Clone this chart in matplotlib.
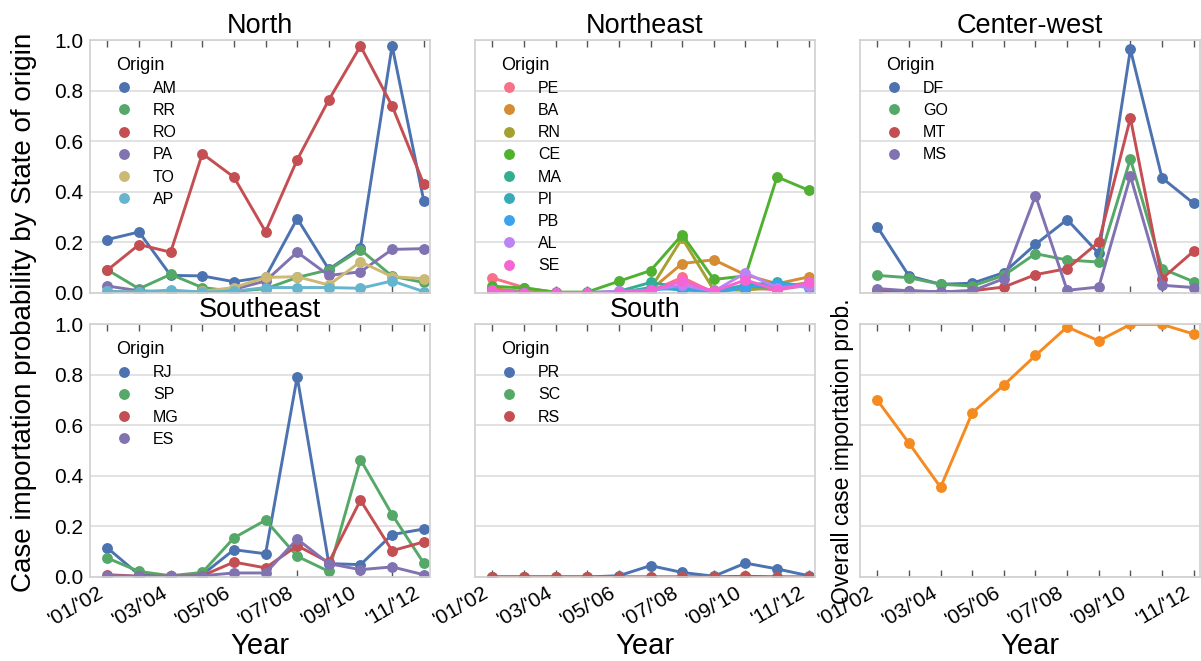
import numpy as np
import matplotlib
matplotlib.use("Agg")
import matplotlib.pyplot as plt
from matplotlib.lines import Line2D
import seaborn as sns

plt.rcParams['font.family'] = ['Liberation Sans', 'DejaVu Sans']

seasons = ["'01/'02", "'02/'03", "'03/'04", "'04/'05", "'05/'06", "'06/'07",
           "'07/'08", "'08/'09", "'09/'10", "'10/'11", "'11/'12"]

# North
north_states = ["AM", "RR", "RO", "PA", "TO", "AP"]
AM = [0.21, 0.24, 0.068, 0.066, 0.043, 0.062, 0.293, 0.092, 0.178, 0.977, 0.364]
RR = [0.09, 0.015, 0.072, 0.02, 0.005, 0.015, 0.06, 0.09, 0.17, 0.065, 0.04]
RO = [0.089, 0.19, 0.16, 0.55, 0.457, 0.241, 0.526, 0.763, 0.976, 0.739, 0.43]
PA = [0.026, 0.007, 0.003, 0.003, 0.013, 0.046, 0.16, 0.068, 0.082, 0.171, 0.174]
TO = [0.005, 0.002, 0.002, 0.005, 0.02, 0.06, 0.063, 0.03, 0.122, 0.063, 0.055]
AP = [0.005, 0.002, 0.01, 0.002, 0.005, 0.02, 0.02, 0.02, 0.017, 0.046, 0.004]

# Northeast
northeast_states = ["PE", "BA", "RN", "CE", "MA", "PI", "PB", "AL", "SE"]
PE = [0.058, 0.02, 0.0, 0.0, 0.0, 0.005, 0.06, 0.0, 0.02, 0.01, 0.03]
BA = [0.015, 0.005, 0.0, 0.0, 0.0, 0.01, 0.115, 0.13, 0.07, 0.035, 0.062]
RN = [0.01, 0.0, 0.0, 0.0, 0.0, 0.015, 0.215, 0.01, 0.01, 0.02, 0.04]
CE = [0.025, 0.018, 0.002, 0.002, 0.045, 0.087, 0.229, 0.052, 0.066, 0.458, 0.405]
MA = [0.01, 0.0, 0.0, 0.0, 0.005, 0.04, 0.02, 0.005, 0.025, 0.02, 0.03]
PI = [0.005, 0.0, 0.0, 0.0, 0.0, 0.02, 0.01, 0.005, 0.03, 0.04, 0.025]
PB = [0.0, 0.0, 0.0, 0.0, 0.0, 0.01, 0.02, 0.0, 0.02, 0.035, 0.02]
AL = [0.005, 0.0, 0.0, 0.0, 0.005, 0.01, 0.03, 0.005, 0.078, 0.02, 0.025]
SE = [0.01, 0.0, 0.0, 0.0, 0.0, 0.01, 0.045, 0.005, 0.05, 0.01, 0.04]

# Center-west
centerwest_states = ["DF", "GO", "MT", "MS"]
DF = [0.26, 0.066, 0.033, 0.037, 0.079, 0.191, 0.289, 0.155, 0.963, 0.454, 0.353]
GO = [0.068, 0.059, 0.033, 0.026, 0.068, 0.154, 0.129, 0.121, 0.529, 0.095, 0.043]
MT = [0.007, 0.007, 0.003, 0.007, 0.022, 0.071, 0.095, 0.2, 0.691, 0.055, 0.164]
MS = [0.016, 0.007, 0.003, 0.007, 0.055, 0.384, 0.009, 0.022, 0.461, 0.029, 0.02]

# Southeast
southeast_states = ["RJ", "SP", "MG", "ES"]
RJ = [0.115, 0.009, 0.005, 0.009, 0.108, 0.092, 0.793, 0.053, 0.049, 0.168, 0.19]
SP = [0.075, 0.022, 0.005, 0.018, 0.155, 0.225, 0.082, 0.022, 0.465, 0.247, 0.055]
MG = [0.009, 0.003, 0.003, 0.005, 0.059, 0.036, 0.124, 0.058, 0.304, 0.104, 0.139]
ES = [0.005, 0.003, 0.003, 0.005, 0.016, 0.016, 0.15, 0.053, 0.029, 0.04, 0.009]

# South
south_states = ["PR", "SC", "RS"]
PR = [0.0, 0.0, 0.0, 0.0, 0.005, 0.045, 0.018, 0.003, 0.055, 0.032, 0.005]
SC = [0.0, 0.0, 0.0, 0.0, 0.0, 0.0, 0.0, 0.0, 0.002, 0.0, 0.0]
RS = [0.0, 0.0, 0.0, 0.0, 0.0, 0.0, 0.0, 0.0, 0.003, 0.0, 0.0]

# Overall
overall = [0.70, 0.53, 0.355, 0.65, 0.76, 0.877, 0.99, 0.935, 1.0, 1.0, 0.962]

deep = ["#4C72B0", "#55A868", "#C44E52", "#8172B2", "#CCB974", "#64B5CD"]
husl9 = sns.color_palette("husl", 9)
orange = "#F58A1F"

regions = [
    ("North", north_states, [AM, RR, RO, PA, TO, AP], deep),
    ("Northeast", northeast_states, [PE, BA, RN, CE, MA, PI, PB, AL, SE], husl9),
    ("Center-west", centerwest_states, [DF, GO, MT, MS], deep),
    ("Southeast", southeast_states, [RJ, SP, MG, ES], deep),
    ("South", south_states, [PR, SC, RS], deep),
]

W, H = 1201, 661
fig, axes = plt.subplots(2, 3, figsize=(W / 100, H / 100), dpi=100,
                         sharex=True, sharey=True)
fig.subplots_adjust(left=90 / W, right=1200 / W, top=1 - 40 / H,
                    bottom=1 - 577 / H, wspace=0.132, hspace=0.126)

x = np.arange(len(seasons))
lw = 2.1
ms = 6.8

def style(ax):
    ax.set_facecolor("white")
    ax.set_axisbelow(True)
    for s in ax.spines.values():
        s.set_color("#d0d0d0")
        s.set_linewidth(1.2)
    ax.grid(axis="y", color="#dddddd", linewidth=1.2)
    ax.grid(axis="x", visible=False)
    ax.tick_params(axis="x", direction="in", top=True, bottom=True,
                   length=5, width=1, color="#555555", labelsize=15, pad=4)
    ax.tick_params(axis="y", length=0, labelsize=15, pad=5)

for ax, (title, states, series, pal) in zip(axes.flat, regions):
    style(ax)
    handles = []
    for i, (st, vals) in enumerate(zip(states, series)):
        c = pal[i]
        ax.plot(x, vals, "-o", color=c, lw=lw, ms=ms, mec=c)
        handles.append(Line2D([], [], ls="", marker="o", color=c, ms=ms))
    ax.set_title(title, fontsize=19.5, pad=5)
    leg = ax.legend(handles, states, title="Origin", loc="upper left",
                    frameon=False, fontsize=11.5, title_fontsize=13,
                    handlelength=1.0, handletextpad=1.3, labelspacing=0.45,
                    borderaxespad=0.4, bbox_to_anchor=(0.04, 0.985))
    leg._legend_box.align = "left"

ax = axes[1, 2]
style(ax)
ax.plot(x, overall, "-o", color=orange, lw=lw, ms=ms, mec=orange)
ax.set_ylabel("Overall case importation prob.", fontsize=16.5, labelpad=4)

ax = axes[0, 0]
ax.set_ylim(0, 1.0)
ax.set_yticks([0, 0.2, 0.4, 0.6, 0.8, 1.0])
ax.set_yticklabels(["0.0", "0.2", "0.4", "0.6", "0.8", "1.0"])
ax.set_xlim(-0.55, 10.2)
ax.set_xticks(x)
for a in axes[1]:
    labels = [s if i % 2 == 0 else "" for i, s in enumerate(seasons)]
    a.set_xticklabels(labels, rotation=30, ha="right")
    a.set_xlabel("Year", fontsize=21, labelpad=2)
for a in axes.flat:
    a.tick_params(axis="y", left=False, right=False)

fig.text(24 / W, 1 - 312 / H, "Case importation probability by State of origin",
         rotation=90, ha="center", va="center", fontsize=20)

fig.savefig("out.png", dpi=100)
